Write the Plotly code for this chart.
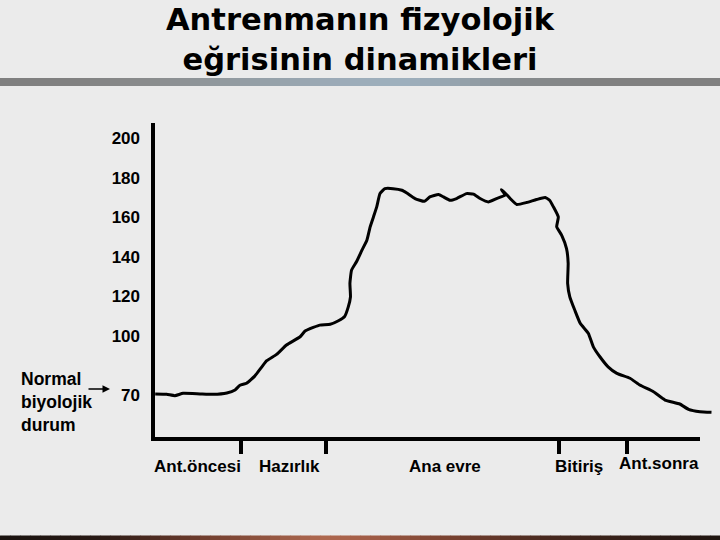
import plotly.graph_objects as go

# ---- data ----
time_pts = [0.4, 2.5, 4.0, 5.5, 8.6, 11.0, 13.5, 15.0, 15.9, 17.1, 18.6, 19.9, 20.8, 22.6,
            24.4, 26.9, 27.8, 29.3, 30.5, 32.4, 33.9, 35.0, 35.7, 36.1, 36.0, 36.3, 37.2,
            38.2, 39.1, 39.7, 40.3, 40.9, 41.5, 42.4, 43.9, 45.5, 46.4, 47.9, 49.6, 50.6,
            52.2, 53.1, 54.3, 55.5, 57.3, 58.6, 59.8, 61.3, 62.8, 64.4, 63.7, 64.4, 65.3,
            66.5, 68.3, 70.1, 71.7, 72.5, 73.2, 74.1, 73.8, 74.7, 75.6, 75.9, 75.8, 76.2,
            77.1, 78.1, 79.6, 80.5, 81.7, 83.2, 84.8, 87.2, 89.0, 91.5, 93.6, 96.3, 97.9,
            100.0, 102.1]
pulse = [70.6, 70.4, 69.7, 70.9, 70.6, 70.4, 71.1, 72.6, 75.0, 76.0, 79.6, 84.3, 87.4, 90.6,
         95.3, 99.5, 102.4, 104.2, 105.4, 105.8, 107.6, 109.6, 114.6, 119.7, 126.5, 133.2, 137.4,
         143.3, 148.3, 155.1, 160.1, 165.2, 171.9, 174.4, 174.4, 173.6, 172.2, 169.4, 168.0, 170.2,
         171.4, 170.2, 168.5, 169.4, 171.9, 171.6, 169.4, 167.7, 169.4, 171.1, 173.9, 172.1, 169.4,
         166.4, 167.4, 168.9, 169.9, 168.5, 165.2, 160.1, 155.1, 150.9, 144.1, 136.6, 126.5, 119.7,
         113.0, 106.3, 101.2, 94.4, 89.4, 84.3, 81.0, 78.5, 75.1, 71.7, 67.5, 65.5, 62.8,
         61.6, 61.3]

y_tick_values = [70, 100, 120, 140, 160, 180, 200]
y_tick_labels = ["70", "100", "120", "140", "160", "180", "200"]

phase_boundaries = [16.1, 31.6, 74.2, 86.6]
phase_names = ["Ant.öncesi", "Hazırlık", "Ana evre", "Bitiriş", "Ant.sonra"]
phase_label_pos = [8.2, 24.9, 53.4, 77.9, 92.5]

title_text = "Antrenmanın fizyolojik<br>eğrisinin dinamikleri"
side_note = "Normal<br>biyolojik<br>durum"

# ---- layout geometry ----
W, H = 720, 540
ML, MR, MT, MB = 153, 4, 123, 101
PW = W - ML - MR
PH = H - MT - MB
X_MAX = 100 * PW / 547.0
Y_RANGE = [47.8, 207.6]

def px_to_paper_x(px):
    return (px - ML) / PW

def px_to_paper_y(py):
    return (H - MB - py) / PH

BG = "#ebebeb"
FONT = "Liberation Sans, Arial, sans-serif"

fig = go.Figure()
fig.add_trace(go.Scatter(
    x=time_pts, y=pulse, mode="lines",
    line=dict(color="black", width=3, shape="spline", smoothing=0.4),
    hoverinfo="skip", showlegend=False,
))

shapes = []

def lerp_stops(stops, px):
    for (x0, c0), (x1, c1) in zip(stops[:-1], stops[1:]):
        if x0 <= px <= x1:
            t = (px - x0) / (x1 - x0) if x1 > x0 else 0
            return "rgb(%d,%d,%d)" % tuple(round(a + (b - a) * t) for a, b in zip(c0, c1))
    return "rgb(%d,%d,%d)" % stops[-1][1]

top_stops = [(0, (127, 127, 127)), (70, (128, 128, 128)), (150, (138, 140, 141)),
             (250, (148, 158, 165)), (330, (155, 170, 182)), (400, (158, 176, 190)),
             (450, (150, 165, 176)), (520, (135, 140, 143)), (600, (128, 128, 128)),
             (720, (128, 128, 128))]
bot_stops = [(0, (25, 18, 15)), (100, (40, 25, 20)), (200, (110, 60, 45)),
             (320, (175, 105, 80)), (360, (165, 95, 72)), (450, (120, 65, 48)),
             (550, (70, 40, 30)), (720, (30, 20, 16))]
SEG = 10
for sx in range(0, W, SEG):
    shapes.append(dict(type="rect", xref="paper", yref="paper",
                       x0=px_to_paper_x(sx), x1=px_to_paper_x(sx + SEG + 0.5),
                       y0=px_to_paper_y(86), y1=px_to_paper_y(78),
                       fillcolor=lerp_stops(top_stops, sx + SEG / 2), line=dict(width=0), layer="below"))
    shapes.append(dict(type="rect", xref="paper", yref="paper",
                       x0=px_to_paper_x(sx), x1=px_to_paper_x(sx + SEG + 0.5),
                       y0=px_to_paper_y(541), y1=px_to_paper_y(535.5),
                       fillcolor=lerp_stops(bot_stops, sx + SEG / 2), line=dict(width=0), layer="below"))

# axis lines
shapes.append(dict(type="line", xref="paper", yref="paper",
                   x0=0, x1=0, y0=-2.0 / PH, y1=1, line=dict(color="black", width=4)))
shapes.append(dict(type="line", xref="paper", yref="paper",
                   x0=-2.0 / PW, x1=100 / X_MAX, y0=0, y1=0, line=dict(color="black", width=4)))

annotations = []
annotations.append(dict(x=px_to_paper_x(360), xref="paper", y=px_to_paper_y(0), yref="paper",
                        text=title_text, showarrow=False, xanchor="center", yanchor="top",
                        align="center",
                        font=dict(family="DejaVu Sans, sans-serif", size=30.5, color="black",
                                  weight="bold")))
for name, pos in zip(phase_names, phase_label_pos):
    annotations.append(dict(x=pos, xref="x", y=px_to_paper_y(466), yref="paper",
                            text=name, showarrow=False, xanchor="center", yanchor="middle",
                            yshift=3 if name == "Ant.sonra" else 0,
                            font=dict(family=FONT, size=17, color="black", weight="bold")))
annotations.append(dict(x=px_to_paper_x(19), xref="paper", y=px_to_paper_y(402), yref="paper",
                        text=side_note, showarrow=False, xanchor="left", yanchor="middle",
                        align="left",
                        font=dict(family=FONT, size=17.5, color="black", weight="bold")))
annotations.append(dict(x=px_to_paper_x(110), xref="paper", y=px_to_paper_y(389), yref="paper",
                        text="", showarrow=True, ax=-23, ay=0, arrowhead=2, arrowsize=1,
                        arrowwidth=1.5, arrowcolor="black"))

fig.update_layout(
    width=W, height=H,
    margin=dict(l=ML, r=MR, t=MT, b=MB),
    paper_bgcolor=BG, plot_bgcolor=BG,
    xaxis=dict(range=[0, X_MAX], showgrid=False, zeroline=False, showline=False,
               tickmode="array", tickvals=phase_boundaries, showticklabels=False,
               ticks="outside", ticklen=14, tickwidth=4, tickcolor="black", fixedrange=True),
    yaxis=dict(range=Y_RANGE, showgrid=False, zeroline=False, showline=False,
               tickmode="array", tickvals=y_tick_values, ticktext=y_tick_labels,
               ticks="", ticklabelstandoff=12,
               tickfont=dict(family=FONT, size=17, color="black", weight="bold"), fixedrange=True),
    shapes=shapes,
    annotations=annotations,
    showlegend=False,
)

fig.write_html("out.html", config={"displayModeBar": False},
               post_script="document.body.style.margin='0';document.body.style.background='" + BG + "';")
